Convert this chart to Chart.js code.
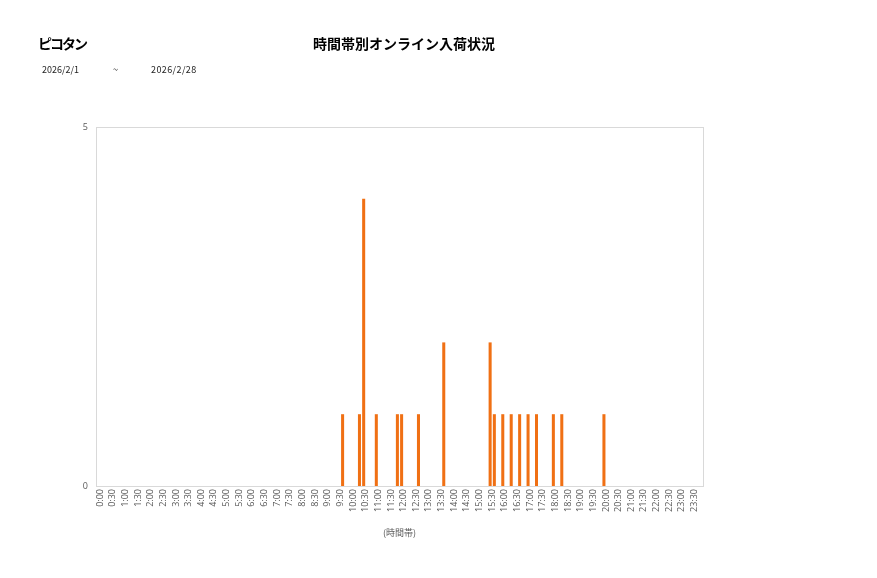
<!DOCTYPE html>
<html>
<head>
<meta charset="utf-8">
<script src="https://cdn.jsdelivr.net/npm/chart.js@4"></script>
<style>
  html,body{margin:0;padding:0;background:#fff;}
  #wrap{position:relative;width:877px;height:578px;overflow:hidden;}
  canvas{position:absolute;left:0;top:0;}
  .t{position:absolute;font-family:"Noto Sans CJK JP",sans-serif;color:#000;white-space:nowrap;}
  #shop{left:38px;top:33px;font-size:14px;font-weight:bold;letter-spacing:-2px;}
  #title{left:313px;top:33px;font-size:14px;font-weight:bold;}
  .d{top:63px;font-size:9px;color:#222;}
</style>
</head>
<body>
<div id="wrap">
  <canvas id="c" width="877" height="578"></canvas>
  <div class="t" id="shop">ピコタン</div>
  <div class="t" id="title">時間帯別オンライン入荷状況</div>
  <div class="t d" style="left:42px;">2026/2/1</div>
  <div class="t d" style="left:113px;">~</div>
  <div class="t d" style="left:151px;letter-spacing:0.4px;">2026/2/28</div>
</div>
<script>
// 10-minute time slots (categories)
const slotHours = [];
for (let h = 0; h < 24; h++) slotHours.push(h);
const slotMinutes = ['00','10','20','30','40','50'];
// Tick labels shown (every 30 minutes)
const shownMinutes = ['00','30'];
// Observed arrivals
const barTimes  = ['9:40','10:20','10:30','11:00','11:50','12:00','12:40','13:40','15:30','15:40','16:00','16:20','16:40','17:00','17:20','18:00','18:20','20:00'];
const barCounts = [1,1,4,1,1,1,1,2,2,1,1,1,1,1,1,1,1,1];
const yTicks = [0,5];

const categories = [];
slotHours.forEach(h => slotMinutes.forEach(m => categories.push(h + ':' + m)));
const values = categories.map(c => {
  const i = barTimes.indexOf(c);
  return i >= 0 ? barCounts[i] : 0;
});

const boxPlugin = {
  id: 'box',
  afterDraw(chart) {
    const a = chart.chartArea, ctx = chart.ctx;
    ctx.save();
    ctx.strokeStyle = '#d9d9d9';
    ctx.lineWidth = 1;
    ctx.strokeRect(Math.round(a.left) + 0.5, Math.round(a.top) + 0.5, Math.round(a.right - a.left), Math.round(a.bottom - a.top));
    ctx.restore();
  }
};

new Chart(document.getElementById('c'), {
  type: 'bar',
  data: {
    labels: categories,
    datasets: [{
      data: values,
      backgroundColor: '#f07014',
      borderWidth: 0,
      barPercentage: 0.72,
      categoryPercentage: 1.0
    }]
  },
  options: {
    responsive: false,
    animation: false,
    devicePixelRatio: 1,
    layout: { padding: { left: 0, right: 174, top: 127, bottom: 38 } },
    plugins: { legend: { display: false }, tooltip: { enabled: false } },
    scales: {
      x: {
        grid: { display: false, drawTicks: false },
        border: { display: false },
        afterFit(s) { s.height = 54; },
        ticks: {
          autoSkip: false,
          maxRotation: 90,
          minRotation: 90,
          padding: 3,
          labelOffset: 2,
          color: '#595959',
          font: { family: 'Open Sans', size: 9 },
          callback(v, i) {
            const lab = categories[i];
            const m = lab.split(':')[1];
            return shownMinutes.includes(m) ? lab : '';
          }
        },
        title: {
          display: true,
          text: '(時間帯)',
          color: '#595959',
          font: { family: 'Noto Sans CJK JP', size: 9 },
          padding: { top: 0, bottom: 2 }
        }
      },
      y: {
        min: 0,
        max: 5,
        afterFit(s) { s.width = 96; },
        afterBuildTicks(s) { s.ticks = yTicks.map(v => ({ value: v })); },
        grid: { display: false, drawTicks: false },
        border: { display: false },
        ticks: {
          padding: 8,
          color: '#595959',
          font: { family: 'Open Sans', size: 9 }
        }
      }
    }
  },
  plugins: [boxPlugin]
});
</script>
</body>
</html>
